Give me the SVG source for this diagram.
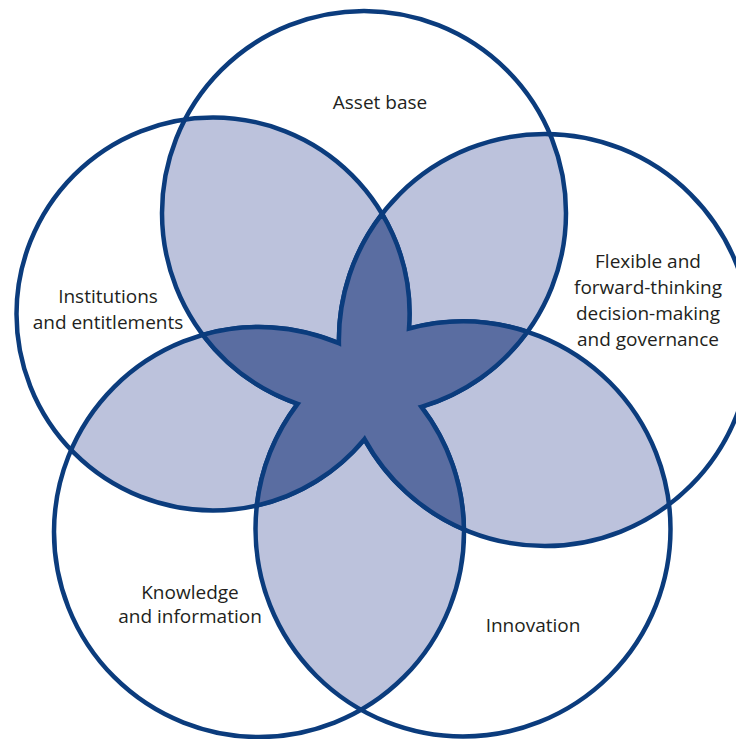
<svg xmlns="http://www.w3.org/2000/svg" xmlns:xlink="http://www.w3.org/1999/xlink" width="736" height="739" viewBox="0 0 736 739">
  <style>
    .ring { fill: none; stroke: #0b3c7d; stroke-width: 4.5; }
    .pair { fill: #bcc2dc; }
    .core { fill: #5a6da1; stroke: #0b3c7d; stroke-width: 4.5; stroke-linejoin: miter; stroke-miterlimit: 20; }
    .label { font-family: "Open Sans", "Noto Sans", "Liberation Sans", sans-serif; font-size: 19px; fill: #231f20; text-anchor: middle; }
  </style>
  <defs>
    <!-- the five sets -->
    <circle id="cA" cx="364" cy="213" r="202"/>
    <circle id="cB" cx="213" cy="314" r="196.5"/>
    <circle id="cC" cx="545" cy="340" r="206"/>
    <circle id="cD" cx="259" cy="532" r="205"/>
    <circle id="cE" cx="463" cy="529" r="207.5"/>
    <clipPath id="kA"><use xlink:href="#cA" href="#cA"/></clipPath>
    <clipPath id="kB"><use xlink:href="#cB" href="#cB"/></clipPath>
    <clipPath id="kC"><use xlink:href="#cC" href="#cC"/></clipPath>
    <clipPath id="kD"><use xlink:href="#cD" href="#cD"/></clipPath>
  </defs>

  <rect width="736" height="739" fill="#ffffff"/>

  <!-- areas shared by two sets -->
  <g id="overlaps-two">
    <use class="pair" xlink:href="#cB" href="#cB" clip-path="url(#kA)"/>
    <use class="pair" xlink:href="#cC" href="#cC" clip-path="url(#kA)"/>
    <use class="pair" xlink:href="#cD" href="#cD" clip-path="url(#kA)"/>
    <use class="pair" xlink:href="#cE" href="#cE" clip-path="url(#kA)"/>
    <use class="pair" xlink:href="#cC" href="#cC" clip-path="url(#kB)"/>
    <use class="pair" xlink:href="#cD" href="#cD" clip-path="url(#kB)"/>
    <use class="pair" xlink:href="#cE" href="#cE" clip-path="url(#kB)"/>
    <use class="pair" xlink:href="#cD" href="#cD" clip-path="url(#kC)"/>
    <use class="pair" xlink:href="#cE" href="#cE" clip-path="url(#kC)"/>
    <use class="pair" xlink:href="#cE" href="#cE" clip-path="url(#kD)"/>
  </g>

  <g id="asset-base">
    <use class="ring" xlink:href="#cA" href="#cA"/>
    <text class="label" x="380" y="109">Asset base</text>
  </g>

  <g id="institutions">
    <use class="ring" xlink:href="#cB" href="#cB"/>
    <text class="label" x="108" y="303">Institutions</text>
    <text class="label" x="108" y="329">and entitlements</text>
  </g>

  <g id="decision-making">
    <use class="ring" xlink:href="#cC" href="#cC"/>
    <text class="label" x="648" y="268">Flexible and</text>
    <text class="label" x="648" y="294">forward-thinking</text>
    <text class="label" x="648" y="320">decision-making</text>
    <text class="label" x="648" y="346">and governance</text>
  </g>

  <g id="knowledge">
    <use class="ring" xlink:href="#cD" href="#cD"/>
    <text class="label" x="190" y="599">Knowledge</text>
    <text class="label" x="190" y="623">and information</text>
  </g>

  <g id="innovation">
    <use class="ring" xlink:href="#cE" href="#cE"/>
    <text class="label" x="533" y="632">Innovation</text>
  </g>

  <!-- area shared by three or more sets: a star bounded by ten circle arcs -->
  <g id="overlaps-core">
    <path class="core" d="M 382.1 213.9
      A 196.5 196.5 0 0 1 409 328.6
      A 207.5 207.5 0 0 1 527.4 331.8
      A 202 202 0 0 1 421.4 406.8
      A 205 205 0 0 1 463.9 529.5
      A 206 206 0 0 1 364.5 439.1
      A 196.5 196.5 0 0 1 256.8 505.6
      A 207.5 207.5 0 0 1 297.6 403.8
      A 202 202 0 0 1 202.8 334.8
      A 205 205 0 0 1 338.9 343.3
      A 206 206 0 0 1 382.1 213.9 Z"/>
  </g>
</svg>
